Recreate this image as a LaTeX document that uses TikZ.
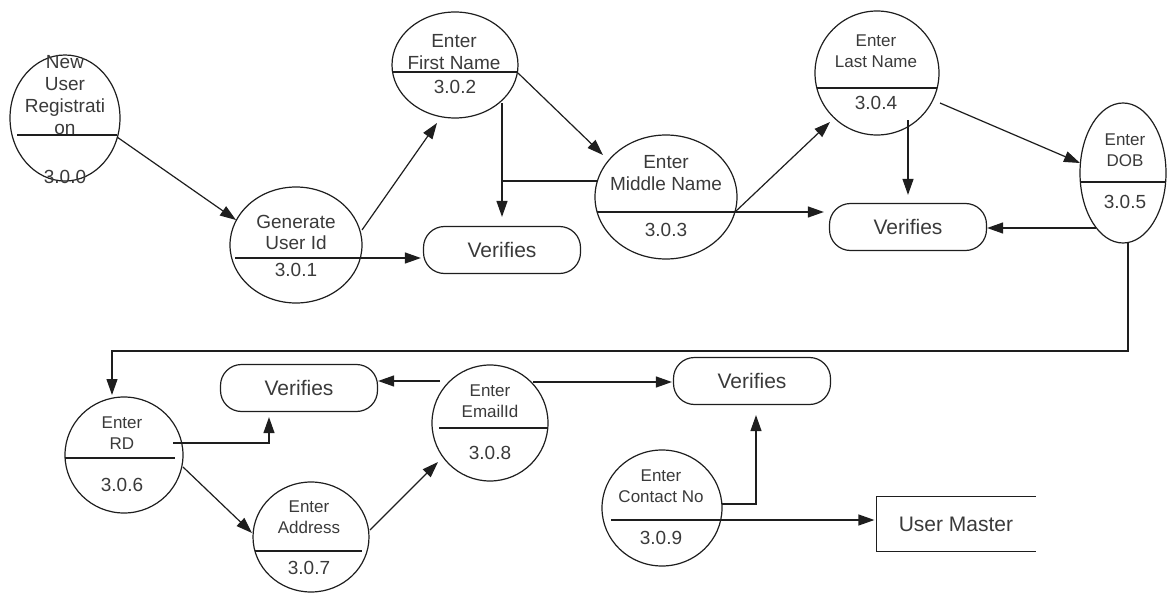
\documentclass[tikz,border=0pt]{standalone}
\usepackage{fontspec}
\setmainfont{Liberation Sans}
\usetikzlibrary{arrows.meta,shapes.geometric,calc}

\definecolor{ink}{HTML}{1E1E1E}
\definecolor{txt}{HTML}{3A3A3A}

\begin{document}
\begin{tikzpicture}[x=1pt,y=-1pt,
  line width=1.2pt,
  color=ink,
  proc/.style 2 args={ellipse,draw=ink,line width=1.2pt,inner sep=0pt,outer sep=0pt,
    minimum width=#1,minimum height=#2},
  vbox/.style={rectangle,rounded corners=21pt,draw=ink,line width=1.2pt,inner sep=0pt,
    minimum width=157pt,minimum height=47pt,text=txt,font=\fontsize{21}{24}\selectfont},
  store/.style={rectangle,inner sep=0pt,minimum width=158pt,minimum height=54pt,
    text=txt,font=\fontsize{21}{24}\selectfont},
  lbl/.style={align=center,inner sep=0pt,text=txt,font=\fontsize{19}{22}\selectfont},
  slbl/.style={align=center,inner sep=0pt,text=txt,font=\fontsize{17}{21}\selectfont},
  num/.style={inner sep=0pt,text=txt,font=\fontsize{19}{22}\selectfont},
  flow/.style={-{Triangle[length=16pt,width=11pt]},line width=1.2pt,draw=ink},
]
\useasboundingbox (0,0) rectangle (1168,594);

% ---------- processes ----------
\node[proc={110pt}{126pt}] (p0) at (65,118) {};
\node[proc={132pt}{116pt}] (p1) at (296,245) {};
\node[proc={126pt}{106pt}] (p2) at (455,65) {};
\node[proc={142pt}{124pt}] (p3) at (666,197) {};
\node[proc={124pt}{124pt}] (p4) at (877,73) {};
\node[proc={86pt}{140pt}]  (p5) at (1123,173) {};
\node[proc={118pt}{116pt}] (p6) at (124,455) {};
\node[proc={116pt}{110pt}] (p7) at (311,537) {};
\node[proc={116pt}{116pt}] (p8) at (490,423) {};
\node[proc={120pt}{116pt}] (p9) at (662,508) {};

% ---------- dividers ----------
\draw ([shift={(-48,17)}]p0.center) -- ([shift={(52,17)}]p0.center);
\coordinate (p1r) at ([shift={(64,13)}]p1.center);
\draw ([shift={(-61,13)}]p1.center) -- (p1r);
\draw ([shift={(-62,7)}]p2.center) -- ([shift={(62,7)}]p2.center);
\coordinate (p3r) at ([shift={(69,15)}]p3.center);
\draw ([shift={(-69,15)}]p3.center) -- (p3r);
\draw ([shift={(-60,15)}]p4.center) -- ([shift={(60,15)}]p4.center);
\draw ([shift={(-42.6,9)}]p5.center) -- ([shift={(42.6,9)}]p5.center);
\draw ([shift={(-59,3)}]p6.center) -- ([shift={(51,3)}]p6.center);
\draw ([shift={(-56,14)}]p7.center) -- ([shift={(51,14)}]p7.center);
\draw ([shift={(-51,5)}]p8.center) -- ([shift={(58,5)}]p8.center);
\coordinate (p9r) at ([shift={(59,12)}]p9.center);
\draw ([shift={(-51,12)}]p9.center) -- (p9r);

% ---------- labels ----------
\node[lbl]  (t0a) at (65,95)    {New\\User\\Registrati\\on};
\node[num]  (t0b) at (65,177)   {3.0.0};
\node[lbl,font=\fontsize{19}{21}\selectfont] (t1a) at (296,232) {Generate\\User Id};
\node[num]  (t1b) at (296,270)  {3.0.1};
\node[lbl]  (t2a) at (454,52)   {Enter\\First Name};
\node[num]  (t2b) at (455,87)   {3.0.2};
\node[lbl]  (t3a) at (666,173)  {Enter\\Middle Name};
\node[num]  (t3b) at (666,230)  {3.0.3};
\node[slbl] (t4a) at (876,51)   {Enter\\Last Name};
\node[num]  (t4b) at (876,103)  {3.0.4};
\node[slbl] (t5a) at (1125,150) {Enter\\DOB};
\node[num]  (t5b) at (1125,202) {3.0.5};
\node[slbl] (t6a) at (122,433)  {Enter\\RD};
\node[num]  (t6b) at (122,485)  {3.0.6};
\node[slbl] (t7a) at (309,517)  {Enter\\Address};
\node[num]  (t7b) at (309,568)  {3.0.7};
\node[slbl] (t8a) at (490,401)  {Enter\\EmailId};
\node[num]  (t8b) at (490,453)  {3.0.8};
\node[slbl] (t9a) at (661,486)  {Enter\\Contact No};
\node[num]  (t9b) at (661,538)  {3.0.9};

% ---------- verification boxes and data store ----------
\node[vbox] (v1) at (502,250) {Verifies};
\node[vbox] (v2) at (908,227) {Verifies};
\node[vbox] (v3) at (299,388) {Verifies};
\node[vbox] (v4) at (752,381) {Verifies};
\node[store] (um) at (956,524) {User Master};
\draw (um.north east) -- (um.north west) -- (um.south west) -- (um.south east);

% ---------- flows ----------
\draw[flow] ([shift={(52,19)}]p0.center) -- ([shift={(-60,-25)}]p1.center);
\draw[flow] ([shift={(66,-15)}]p1.center) -- ([shift={(-18,58)}]p2.center);
\draw[flow,shorten >=2pt] (p1r) -- (p1r -| v1.west);

\coordinate (p2s) at ([shift={(47,38)}]p2.center);
\draw[flow,shorten >=9pt] (p2s) -- (p2s |- v1.north);
\coordinate (p3w) at ([shift={(-69,-16)}]p3.center);
\draw (p3w) -- (p3w -| p2s);
\draw[flow] ([shift={(63,8)}]p2.center) -- ([shift={(-63,-42)}]p3.center);

\draw[flow,shorten >=5pt] (p3r) -- (p3r -| v2.west);
\draw[flow] (p3r) -- ([shift={(-47,49)}]p4.center);

\coordinate (p4s) at ([shift={(31,47)}]p4.center);
\draw[flow,shorten >=8pt] (p4s) -- (p4s |- v2.north);
\draw[flow] ([shift={(63,30)}]p4.center) -- ([shift={(-43,-10)}]p5.center);

\coordinate (p5w) at ([shift={(-27,55)}]p5.center);
\draw[flow] (p5w) -- (p5w -| v2.east);
\draw[flow] ([shift={(5,70)}]p5.center) -- ++(0,108) -| ([shift={(-12,-60)}]p6.center);

\draw[flow,shorten >=5pt] ([shift={(49,-12)}]p6.center) -| ([xshift=-30pt]v3.south);
\draw[flow] ([shift={(59,12)}]p6.center) -- ([shift={(-59,-4)}]p7.center);
\draw[flow] ([shift={(59,-7)}]p7.center) -- ([shift={(-52,39)}]p8.center);

\coordinate (p8w) at ([shift={(-50,-42)}]p8.center);
\draw[flow] (p8w) -- (p8w -| v3.east);
\coordinate (p8e) at ([shift={(43,-41)}]p8.center);
\draw[flow,shorten >=1pt] (p8e) -- (p8e -| v4.west);

\draw[flow,shorten >=10pt] ([shift={(60,-4)}]p9.center) -| ([xshift=4pt]v4.south);
\draw[flow,shorten >=2pt] (p9r) -- (p9r -| um.west);
\end{tikzpicture}
\end{document}
